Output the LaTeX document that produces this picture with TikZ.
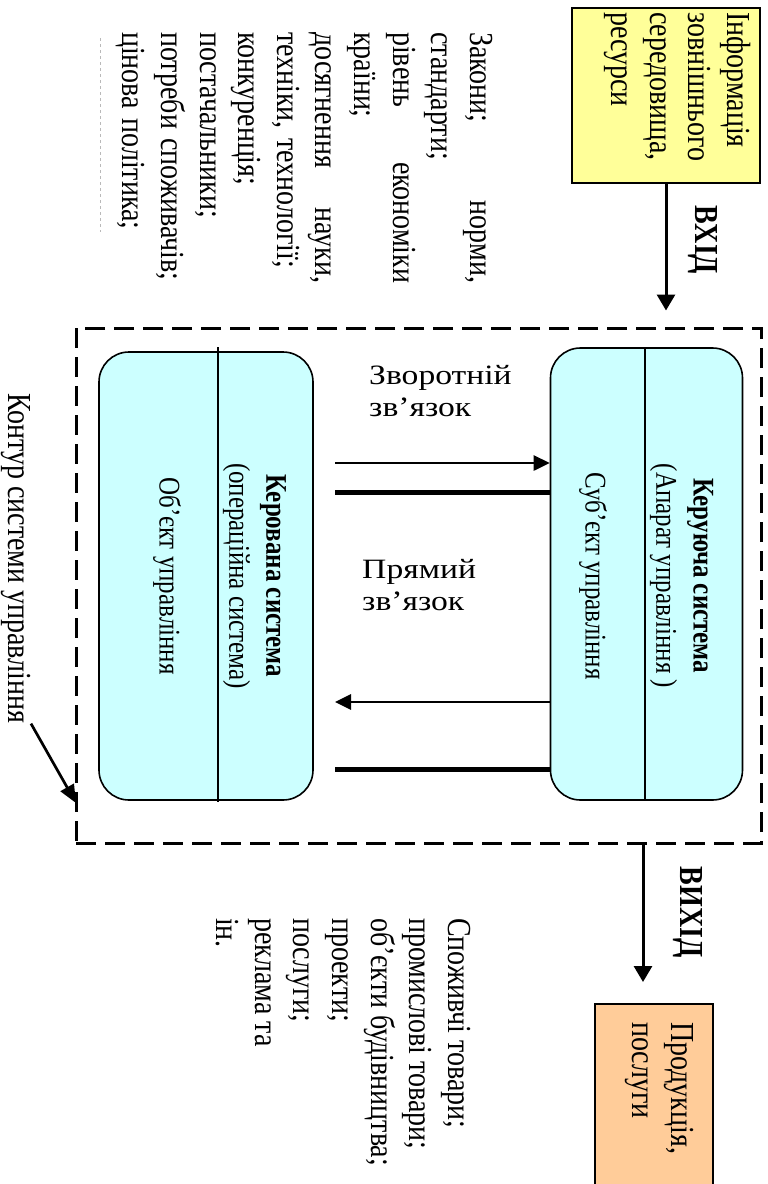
\documentclass[tikz,border=0pt]{standalone}
\usepackage{fontspec}
\setmainfont{Liberation Serif}
\usetikzlibrary{arrows.meta,calc}

\definecolor{infoyellow}{HTML}{FFFF99}
\definecolor{syscyan}{HTML}{CCFFFF}
\definecolor{prodorange}{HTML}{FFCC99}

\begin{document}
\begin{tikzpicture}[x=1pt,y=-1pt,
  vtext/.style={rotate=-90, yscale=1.2, inner sep=0pt},
  htext/.style={xscale=1.2, inner sep=0pt},
  bigfont/.style={font=\fontsize{28}{32.2}\selectfont},
  bigbold/.style={font=\fontsize{28}{32.2}\selectfont\bfseries},
  smallfont/.style={font=\fontsize{25}{31}\selectfont},
  flowarrow/.style={line width=3pt, -{Triangle[length=16pt,width=18pt]}},
  linkarrow/.style={line width=2.7pt, -{Triangle[length=16pt,width=15pt]}},
  linkbar/.style={line width=5pt},
  sysbox/.style={draw, line width=1.6pt, fill=syscyan, rounded corners=30pt, inner sep=0pt},
  plainbox/.style={draw, line width=1.8pt, inner sep=0pt},
  divider/.style={line width=1.2pt},
]
\useasboundingbox (0,0) rectangle (768,1184);
\clip (0,0) rectangle (768,1184);
\fill[white] (0,0) rectangle (768,1184);

% environment input
\node[plainbox, fill=infoyellow, minimum width=188pt, minimum height=175pt] (info) at (666,95.5) {};
\node[vtext, bigfont, text width=170pt, align=left, anchor=north west] (infotext) at (751,12)
  {Інформація\\зовнішнього\\середовища,\\ресурси};
\node[vtext, bigbold] (inlabel) at (702.5,240) {ВХІД};

\node[vtext, bigfont, text width=251pt, align=left, anchor=north west] (factors) at (493,32)
  {Закони;\hfill норми,\\стандарти;\\рівень\hfill економіки\\країни;\\досягнення\hfill науки,\\техніки, технології;\\конкуренція;\\постачальники;\\потреби споживачів;\\цінова політика;};
\draw[gray!55, dashed, line width=0.8pt] (100,38) -- (100,232);

% boundary of the management system
\node[draw, dash pattern=on 20pt off 9pt, line width=3pt, minimum width=685pt, minimum height=515pt, inner sep=0pt] (boundary) at (418.5,585.5) {};
\draw[flowarrow, shorten >=16pt] (info.south) -- (info.south |- boundary.north);

% controlling and controlled systems
\node[sysbox, minimum width=192pt, minimum height=452pt] (ctrl) at (646.5,574) {};
\node[sysbox, minimum width=214pt, minimum height=448pt] (obj) at (206,576) {};
\draw[divider] (645,348) -- (645,800);
\draw[divider] (218,347) -- (218,802);

\node[vtext, smallfont, align=center] (ctrlhead) at (681.5,576) {\textbf{Керуюча система}\\(Апарат управління )};
\node[vtext, smallfont] (ctrlbody) at (593,576) {Суб’єкт управління};
\node[vtext, smallfont, align=center] (objhead) at (254.5,576) {\textbf{Керована система}\\(операційна система)};
\node[vtext, smallfont] (objbody) at (167,576) {Об’єкт управління};

% feedback and direct links
\coordinate (fbstart) at (335,463);
\draw[linkarrow] (fbstart) -- (fbstart -| ctrl.west);
\coordinate (fbbar) at (335,492);
\draw[linkbar] (fbbar) -- (fbbar -| ctrl.west);
\coordinate (dirend) at (335,702);
\draw[linkarrow] (dirend -| ctrl.west) -- (dirend);
\coordinate (dirbar) at (335,769);
\draw[linkbar] (dirbar) -- (dirbar -| ctrl.west);

\node[htext, bigfont, align=left, anchor=north west] (fblabel) at (369,365) {Зворотній\\зв’язок};
\node[htext, bigfont, align=left, anchor=north west] (dirlabel) at (362,559) {Прямий\\зв’язок};

% contour label
\node[vtext, bigfont, anchor=north west] (contour) at (31,393) {Контур системи управління};
\coordinate (contourtip) at (76,803);
\draw[linkarrow, -{Triangle[length=18pt,width=15pt]}] (contour.north east) -- (contourtip);

% output
\coordinate (outx) at (643,0);
\node[vtext, bigbold] (outlabel) at (688,912) {ВИХІД};
\node[plainbox, fill=prodorange, minimum width=118pt, minimum height=200pt, anchor=north] (product) at (654,1003) {};
\node[vtext, bigfont, align=left, anchor=north west] (producttext) at (694,1022) {Продукція,\\послуги};
\draw[flowarrow, shorten >=21pt] (outx |- boundary.south) -- (outx |- product.north);

\node[vtext, bigfont, align=left, anchor=north west] (outputs) at (471,918)
  {Споживчі товари;\\промислові товари;\\об’єкти будівництва;\\проекти;\\послуги;\\реклама та\\ін.};
\end{tikzpicture}
\end{document}
